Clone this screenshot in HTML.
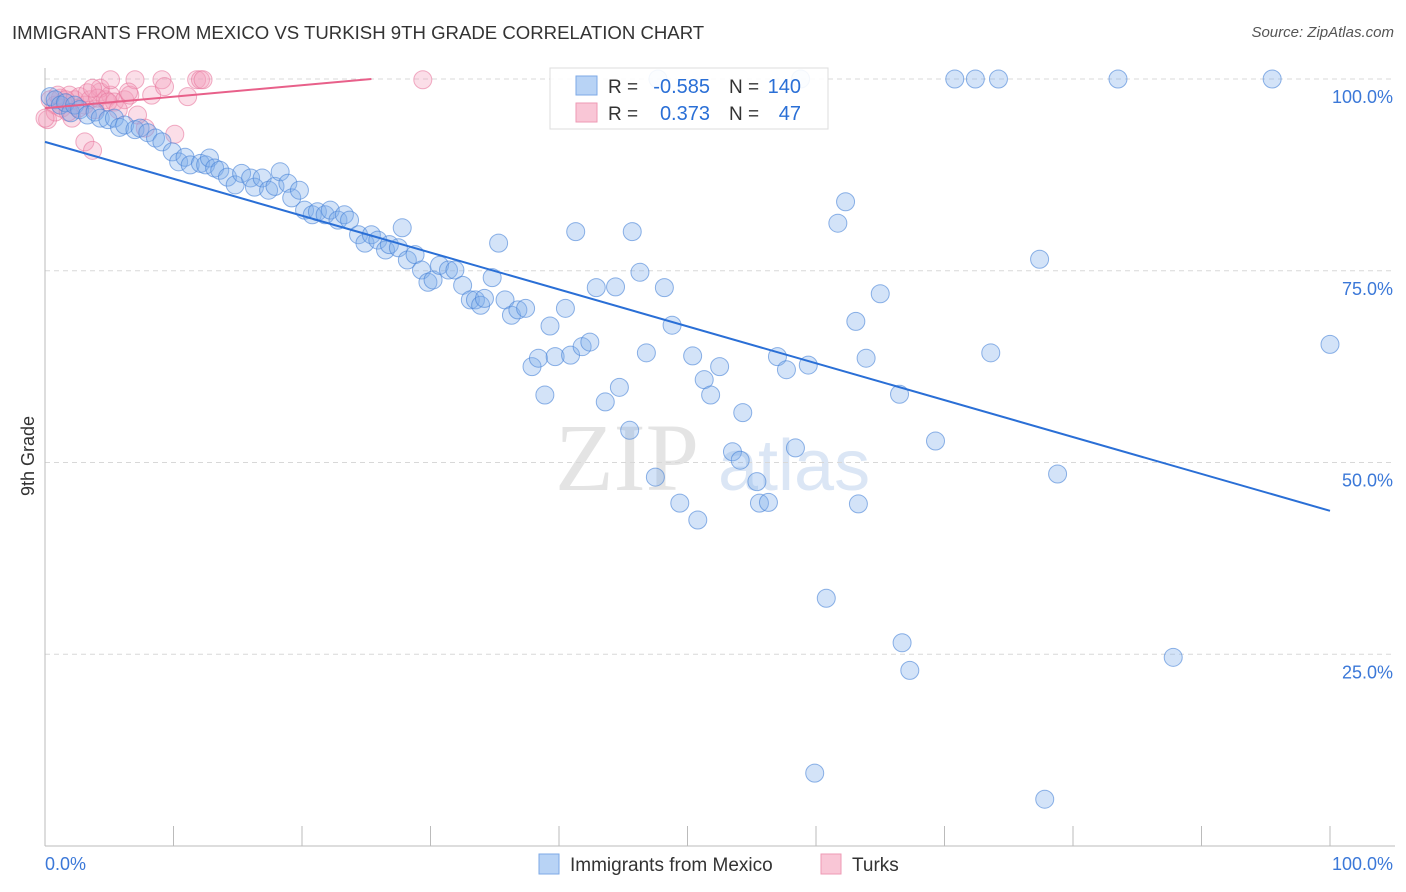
<!DOCTYPE html>
<html><head><meta charset="utf-8"><style>
body{margin:0;background:#fff;font-family:"Liberation Sans",sans-serif;}
#wrap{position:relative;width:1406px;height:892px;overflow:hidden;}
.t{position:absolute;white-space:nowrap;}
</style></head><body>
<div id="wrap">
<div class="t" style="left:12px;top:22px;font-size:18.6px;color:#333;">IMMIGRANTS FROM MEXICO VS TURKISH 9TH GRADE CORRELATION CHART</div>
<div class="t" style="right:12px;top:24px;font-size:15px;color:#555;font-style:italic;">Source: ZipAtlas.com</div>
<svg id="plot" width="1406" height="892" style="position:absolute;left:0;top:0"></svg>
</div>
<script>
const yTicks=[100,75,50,25];
const yTickLabels=["100.0%","75.0%","50.0%","25.0%"];
const xTickCount=10;
const blueX=[0.4,0.8,1.2,1.6,2.0,2.3,2.7,3.3,3.9,4.3,4.9,5.4,5.8,6.2,7.0,7.4,8.0,8.6,9.1,9.9,10.4,10.9,11.3,12.1,12.5,12.8,13.2,13.6,14.2,14.8,15.3,16.0,16.3,16.9,17.4,17.9,18.3,18.9,19.2,19.8,20.2,20.8,21.2,21.8,22.2,22.8,23.3,23.7,24.4,24.9,25.4,25.9,26.5,26.8,27.5,27.8,28.2,28.8,29.3,29.8,30.2,30.7,31.4,31.9,32.5,33.1,33.5,33.9,34.2,34.8,35.3,35.8,36.3,36.8,37.4,37.9,38.4,38.9,39.3,39.7,40.5,40.9,41.3,41.8,42.4,42.9,43.6,44.4,44.7,45.5,45.7,46.3,46.8,47.5,48.2,48.8,49.4,50.4,50.8,51.3,51.8,52.5,53.5,54.1,54.3,55.4,55.6,56.3,57.0,57.7,58.4,59.4,59.9,60.8,61.7,62.3,63.1,63.3,63.9,65.0,66.5,66.7,67.3,69.3,70.8,72.4,74.2,73.6,77.4,77.8,78.8,83.5,87.8,95.5,100,47.7,58.8];
const blueY=[97.7,97.3,96.6,96.9,95.6,96.6,96.0,95.3,95.7,94.9,94.7,94.9,93.7,94.0,93.4,93.6,93.0,92.3,91.8,90.5,89.2,89.8,88.8,89.0,88.8,89.7,88.4,88.1,87.2,86.2,87.7,87.1,85.9,87.1,85.5,86.0,87.9,86.4,84.5,85.5,82.9,82.3,82.7,82.3,82.9,81.6,82.3,81.6,79.7,78.6,79.7,79.0,77.7,78.4,78.0,80.6,76.4,77.1,75.1,73.5,73.8,75.7,75.1,75.1,73.1,71.2,71.2,70.5,71.4,74.1,78.6,71.2,69.2,69.9,70.1,62.5,63.6,58.8,67.8,63.8,70.1,64.0,80.1,65.1,65.7,72.8,57.9,72.9,59.8,54.2,80.1,74.8,64.3,48.1,72.8,67.9,44.7,63.9,42.5,60.8,58.8,62.5,51.4,50.3,56.5,47.5,44.7,44.8,63.8,62.1,51.9,62.7,9.5,32.3,81.2,84.0,68.4,44.6,63.6,72.0,58.9,26.5,22.9,52.8,100,100,100,64.3,76.5,6.1,48.5,100,24.6,100,65.4,100,100];
const pinkX=[0.2,0.4,0.8,1.2,1.6,1.9,2.3,2.7,3.1,3.5,3.9,4.3,4.7,5.1,5.4,0.8,1.3,2.1,3.1,3.7,4.3,5.1,6.2,6.6,7.0,7.8,8.3,9.1,9.3,10.1,11.1,11.8,12.1,12.3,29.4,0,1.0,1.8,2.6,3.3,4.1,4.9,5.7,6.5,7.2,3.7,1.6];
const pinkY=[94.7,97.3,96.6,97.5,96.9,97.9,97.3,97.7,96.6,97.3,96.0,98.3,97.3,97.9,97.0,95.7,96.2,94.9,91.8,90.7,98.8,99.9,97.3,97.9,99.9,93.6,97.9,99.9,99.0,92.8,97.7,99.9,99.9,99.9,99.9,94.9,97.9,95.7,96.2,98.2,97.5,97.0,96.0,98.3,95.3,98.8,97.3];
const blueTrend=[[0,91.8],[100,43.7]];
const pinkTrend=[[0,96.2],[25.4,100]];

const L=45,R=1330,T=79,B=846;
const sx=v=>L+(R-L)*v/100, sy=v=>B-(B-T)*v/100;
const svg=document.getElementById('plot');
const NS='http://www.w3.org/2000/svg';
function mk(tag,attrs,parent){const e=document.createElementNS(NS,tag);for(const k in attrs)e.setAttribute(k,attrs[k]);(parent||svg).appendChild(e);return e;}

const wm=mk('text',{x:555,y:490,'font-size':96,'font-family':'Liberation Serif, serif',fill:'#e4e4e4'});


wm.textContent='ZIP';
const wm2=mk('text',{x:718,y:490,'font-size':72,'font-family':'Liberation Sans, sans-serif',fill:'#dbe6f5'});


wm2.textContent='atlas';

yTicks.forEach((v,i)=>{
  const g=mk('line',{x1:L,x2:1395,y1:sy(v),y2:sy(v),stroke:'#d8d8d8','stroke-dasharray':'5,4'});
  
  
  const t=mk('text',{x:1393,y:sy(v)+24,'text-anchor':'end','font-size':18,fill:'#3b78d8'});
  
  
  t.textContent=yTickLabels[i];
});
const ya=mk('line',{x1:L,x2:L,y1:68,y2:B,stroke:'#bbb'});


const xa=mk('line',{x1:L,x2:1395,y1:B,y2:B,stroke:'#bbb'});


for(let i=0;i<=xTickCount;i++){
  const x=sx(i*100/xTickCount);
  const tk=mk('line',{x1:x,x2:x,y1:826,y2:B,stroke:'#bbb'});
  
  
}
const yt=mk('text',{x:34,y:456,'text-anchor':'middle','font-size':18,fill:'#333',transform:'rotate(-90 34 456)'});


yt.textContent='9th Grade';
const x0=mk('text',{x:45,y:870,'font-size':18,fill:'#3b78d8'});


x0.textContent='0.0%';
const x1=mk('text',{x:1393,y:870,'text-anchor':'end','font-size':18,fill:'#3b78d8'});


x1.textContent='100.0%';

pinkX.forEach((x,i)=>{
  const c=mk('circle',{cx:sx(x),cy:sy(pinkY[i]),r:9,fill:'rgba(244,160,188,0.35)',stroke:'rgba(232,120,158,0.6)','stroke-width':1});
  
  
});
blueX.forEach((x,i)=>{
  const c=mk('circle',{cx:sx(x),cy:sy(blueY[i]),r:9,fill:'rgba(130,175,235,0.35)',stroke:'rgba(70,130,215,0.6)','stroke-width':1});
  
  
});
const bl=mk('line',{x1:sx(blueTrend[0][0]),y1:sy(blueTrend[0][1]),x2:sx(blueTrend[1][0]),y2:sy(blueTrend[1][1]),stroke:'#2a6fd6','stroke-width':2});


const pl=mk('line',{x1:sx(pinkTrend[0][0]),y1:sy(pinkTrend[0][1]),x2:sx(pinkTrend[1][0]),y2:sy(pinkTrend[1][1]),stroke:'#e8608a','stroke-width':2});



const lg=mk('g',{});


mk('rect',{x:550,y:68,width:278,height:61,fill:'rgba(255,255,255,0.9)',stroke:'#ddd'},lg);
mk('rect',{x:576,y:76,width:21,height:19,fill:'#b8d3f5',stroke:'#7eaae6'},lg);
mk('rect',{x:576,y:103,width:21,height:19,fill:'#f9c6d6',stroke:'#ee9ab4'},lg);
[['R = ','-0.585','N = ','140',93],['R = ','0.373','N = ','47',120]].forEach(r=>{
  const a=mk('text',{x:608,y:r[4],'font-size':19,fill:'#333'},lg);a.textContent=r[0];
  const b=mk('text',{x:710,y:r[4],'font-size':20,fill:'#2a6fd6','text-anchor':'end'},lg);b.textContent=r[1];
  const c=mk('text',{x:729,y:r[4],'font-size':19,fill:'#333'},lg);c.textContent=r[2];
  const d=mk('text',{x:801,y:r[4],'font-size':20,fill:'#2a6fd6','text-anchor':'end'},lg);d.textContent=r[3];
});
const bl2=mk('g',{});


mk('rect',{x:539,y:854,width:20,height:20,fill:'#b8d3f5',stroke:'#7eaae6'},bl2);
const t1=mk('text',{x:570,y:871,'font-size':19,fill:'#333'},bl2);t1.textContent='Immigrants from Mexico';
mk('rect',{x:821,y:854,width:20,height:20,fill:'#f9c6d6',stroke:'#ee9ab4'},bl2);
const t2=mk('text',{x:852,y:871,'font-size':19,fill:'#333'},bl2);t2.textContent='Turks';
</script>
</body></html>
